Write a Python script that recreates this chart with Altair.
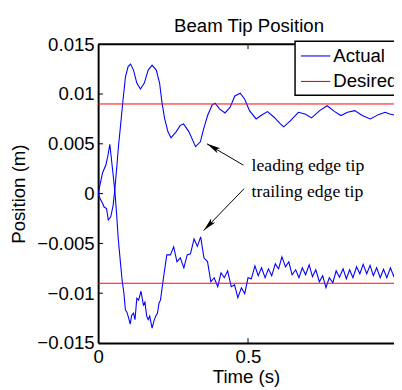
import altair as alt
import pandas as pd

# ---- data (time in s, position in mm) ----
lead_t = [0, 0.008, 0.015, 0.02, 0.028, 0.034, 0.042, 0.05, 0.056, 0.062,
          0.068, 0.075, 0.082, 0.091, 0.1, 0.108, 0.118, 0.129, 0.141, 0.154,
          0.167, 0.18, 0.194, 0.205, 0.213, 0.222, 0.233, 0.243, 0.26, 0.274,
          0.285, 0.303, 0.325, 0.341, 0.352, 0.365, 0.38, 0.39, 0.405, 0.423,
          0.44, 0.456, 0.474, 0.489, 0.505, 0.527, 0.543, 0.565, 0.587, 0.608,
          0.619, 0.641, 0.668, 0.69, 0.712, 0.739, 0.764, 0.788, 0.81, 0.832,
          0.856, 0.881, 0.908, 0.935, 0.957, 0.973, 1.0]
lead_mm = [0, -0.6, -1.0, -1.35, -1.5, -2.65, -2.33, -1.2, 0.5, 2.6,
           4.8, 6.9, 9.1, 11.7, 12.75, 13.0, 12.4, 11.1, 10.5, 11.1,
           12.4, 12.9, 12.4, 11.1, 9.14, 7.5, 6.2, 5.6, 6.2, 6.85,
           7.0, 6.2, 4.72, 5.2, 6.5, 7.84, 8.88, 9.08, 8.5, 8.1,
           8.65, 9.8, 10.08, 9.47, 8.33, 7.5, 7.84, 8.23, 7.67, 7.0,
           6.7, 7.3, 8.16, 8.0, 7.6, 8.33, 8.82, 8.26, 7.84, 8.16,
           8.33, 7.84, 7.5, 7.93, 8.16, 8.0, 7.8]

trail_t = [0, 0.009, 0.015, 0.026, 0.032, 0.039, 0.044, 0.05, 0.056, 0.062,
           0.067, 0.075, 0.08, 0.086, 0.091, 0.096, 0.101, 0.107, 0.112, 0.118,
           0.123, 0.129, 0.135, 0.143, 0.151, 0.156, 0.162, 0.167, 0.172, 0.18,
           0.186, 0.192, 0.198, 0.203, 0.208,
           0.218, 0.229, 0.241, 0.252, 0.263, 0.274, 0.286, 0.297, 0.308, 0.320,
           0.331, 0.342, 0.353, 0.365, 0.376, 0.387, 0.399, 0.410, 0.421, 0.432,
           0.444, 0.455, 0.466, 0.478,
           0.489, 0.500, 0.511, 0.523, 0.534, 0.545, 0.557, 0.568, 0.579, 0.591,
           0.602, 0.613, 0.625,
           0.636, 0.647, 0.659, 0.670, 0.681, 0.692, 0.704, 0.715, 0.726, 0.738,
           0.749, 0.760, 0.771, 0.783, 0.794, 0.805, 0.817, 0.828, 0.839, 0.850,
           0.862, 0.873, 0.884, 0.896, 0.907, 0.918, 0.929, 0.941, 0.952, 0.963,
           0.975, 0.986, 0.997]
trail_mm = [0, 1.28, 2.1, 2.9, 3.7, 4.95, 3.57, 1.9, 0.2, -2.2,
            -4.5, -7.1, -8.7, -10.0, -11.7, -11.9, -12.4, -13.1, -12.2, -12.0,
            -12.65, -10.5, -10.7, -9.8, -11.2, -10.9, -12.3, -12.65, -12.3, -13.5,
            -12.8, -12.3, -12.0, -11.0, -10.7,
            -8.45, -6.15, -6.15, -5.35, -6.85, -6.45, -7.45, -6.15, -6.05, -4.55,
            -5.3, -4.35, -6.45, -6.85, -8.85, -8.45, -9.35, -7.95, -8.45, -7.75,
            -9.35, -9.15, -10.45, -9.45,
            -10.05, -8.45, -8.55, -7.25, -8.25, -7.45, -8.45, -7.55, -8.25, -7.05,
            -7.55, -6.35, -7.35,
            -6.85, -8.15, -7.65, -8.45, -7.45, -8.15, -7.15, -8.35, -7.65, -8.85,
            -8.25, -9.45, -8.45, -8.95, -7.75, -8.4, -7.55, -8.55, -7.65, -8.45,
            -7.35, -8.05, -7.1, -8.05, -7.2, -8.25, -7.45, -8.45, -7.6, -8.45,
            -7.45, -8.3, -7.45]

desired_v = [0.009, -0.009]
series_names = ["Actual", "Desired"]
series_colors = ["#0000ff", "#ff0000"]
chart_title = ["Beam Tip Position"]

y_tick_values = [-0.015, -0.01, -0.005, 0, 0.005, 0.01, 0.015]
y_inner_ticks = [-0.01, -0.005, 0, 0.005, 0.01]
x_tick_values = [0, 0.5, 1.0]
x_inner_ticks = [0.5]

note_text = ["leading edge tip", "trailing edge tip"]
note_t = [0.512, 0.512]
note_v = [0.0023, -0.0003]
arrow_tail_t = [0.485, 0.487]
arrow_tail_v = [0.00285, 0.0005]
arrow_head_t = [0.363, 0.352]
arrow_head_v = [0.0050, -0.0037]
arrow_angle = [300, 224]

W, H = 302, 305
FONT = "Liberation Sans"

actual = pd.concat([
    pd.DataFrame({"t": lead_t, "v": [m / 1000 for m in lead_mm],
                  "curve": "leading", "series": "Actual"}),
    pd.DataFrame({"t": trail_t, "v": [m / 1000 for m in trail_mm],
                  "curve": "trailing", "series": "Actual"}),
], ignore_index=True)
desired = pd.DataFrame({"v": desired_v, "series": "Desired"})
notes = pd.DataFrame({"t": note_t, "v": note_v, "label": note_text})
arrows = pd.DataFrame({"t": arrow_tail_t, "v": arrow_tail_v,
                       "t2": arrow_head_t, "v2": arrow_head_v})
heads = pd.DataFrame({"t": arrow_head_t, "v": arrow_head_v, "angle": arrow_angle})
yt = pd.DataFrame({"v": y_inner_ticks})
xt = pd.DataFrame({"t": x_inner_ticks})
leg = pd.DataFrame({"series": series_names})
frame = pd.DataFrame({"v": [0.015]})
ttl = pd.DataFrame({"title": chart_title})

x_scale = alt.Scale(domain=[0, W / 306], nice=False, zero=False)
y_scale = alt.Scale(domain=[-0.015, 0.015], nice=False, zero=False)
x_axis = alt.Axis(values=x_tick_values, format="~g", title="Time (s)",
                  ticks=False, labelPadding=5, titlePadding=1,
                  domainColor="black", domainWidth=2, grid=False,
                  labelFlush=False, labelOverlap=False,
                  labelFont=FONT, labelFontSize=19, labelColor="black",
                  titleFont=FONT, titleFontSize=19, titleFontWeight="normal",
                  titleColor="black")
y_axis = alt.Axis(values=y_tick_values, format=".3~f", title="Position (m)",
                  ticks=False, labelPadding=4, titlePadding=8,
                  domainColor="black", domainWidth=2, grid=False,
                  labelFlush=False, labelOverlap=False,
                  labelFont=FONT, labelFontSize=19, labelColor="black",
                  titleFont=FONT, titleFontSize=19, titleFontWeight="normal",
                  titleColor="black")


def X(f):
    return alt.X(f, scale=x_scale, axis=x_axis)


def Y(f):
    return alt.Y(f, scale=y_scale, axis=y_axis)


color = alt.Color("series:N",
                  scale=alt.Scale(domain=series_names, range=series_colors),
                  legend=None)

lines = alt.Chart(actual).mark_line(strokeWidth=1.1, clip=True).encode(
    x=X("t:Q"), y=Y("v:Q"), color=color, detail="curve:N", order="t:Q")

ref = alt.Chart(desired).mark_rule(strokeWidth=1).encode(
    y=Y("v:Q"), color=color)

top_frame = alt.Chart(frame).mark_rule(color="black", strokeWidth=2).encode(
    y=Y("v:Q"))

ytick = alt.Chart(yt).mark_rule(color="black", strokeWidth=1).encode(
    y=Y("v:Q"), x=alt.value(0), x2=alt.value(5))
xtick_b = alt.Chart(xt).mark_rule(color="black", strokeWidth=1).encode(
    x=X("t:Q"), y=alt.value(H), y2=alt.value(H - 5))
xtick_t = alt.Chart(xt).mark_rule(color="black", strokeWidth=1).encode(
    x=X("t:Q"), y=alt.value(0), y2=alt.value(5))

arrow_lines = alt.Chart(arrows).mark_rule(color="black", strokeWidth=1).encode(
    x=X("t:Q"), y=Y("v:Q"), x2="t2:Q", y2="v2:Q")
arrow_heads = alt.Chart(heads).mark_point(
    shape="M0,0 L0.42,2 L0,1.55 L-0.42,2 Z", filled=True, color="black",
    size=196, opacity=1, strokeWidth=0).encode(
    x=X("t:Q"), y=Y("v:Q"), angle=alt.Angle("angle:Q", scale=None))

text = alt.Chart(notes).mark_text(align="left", baseline="alphabetic",
                                  font="Liberation Serif", fontSize=18,
                                  color="black").encode(
    x=X("t:Q"), y=Y("v:Q"), text="label:N")

# legend box in the upper right corner; it runs past the right edge like the original
leg_box = alt.Chart(leg).transform_filter(
    alt.datum.series == "Actual").mark_rect(
    fill="white", stroke="black", strokeWidth=1.5).encode(
    x=alt.value(201), x2=alt.value(330), y=alt.value(-3), y2=alt.value(52))
leg_line_a = alt.Chart(leg).transform_filter(
    alt.datum.series == "Actual").mark_rule(strokeWidth=1.1).encode(
    x=alt.value(207), x2=alt.value(237), y=alt.value(12), color=color)
leg_line_d = alt.Chart(leg).transform_filter(
    alt.datum.series == "Desired").mark_rule(strokeWidth=1.1).encode(
    x=alt.value(207), x2=alt.value(237), y=alt.value(38), color=color)
leg_text_a = alt.Chart(leg).transform_filter(
    alt.datum.series == "Actual").mark_text(
    align="left", baseline="middle", font=FONT, fontSize=19,
    color="black").encode(x=alt.value(240), y=alt.value(12), text="series:N")
leg_text_d = alt.Chart(leg).transform_filter(
    alt.datum.series == "Desired").mark_text(
    align="left", baseline="middle", font=FONT, fontSize=19,
    color="black").encode(x=alt.value(240), y=alt.value(38), text="series:N")

# chart title, centred over the full 0..1 time span
title_mark = alt.Chart(ttl).mark_text(
    align="center", baseline="alphabetic", font=FONT, fontSize=19,
    color="black").encode(x=alt.value(154), y=alt.value(-12), text="title:N")

chart = alt.layer(lines, ref, top_frame, ytick, xtick_b, xtick_t,
                  arrow_lines, arrow_heads, text,
                  leg_box, leg_line_a, leg_line_d, leg_text_a, leg_text_d,
                  title_mark
                  ).properties(
    width=W, height=H,
    padding={"left": 92, "top": 33, "right": 0, "bottom": 44},
    autosize=alt.AutoSizeParams(type="none"),
).configure_view(strokeWidth=0)

chart.save("out.html", embed_options={"renderer": "svg", "actions": False})
